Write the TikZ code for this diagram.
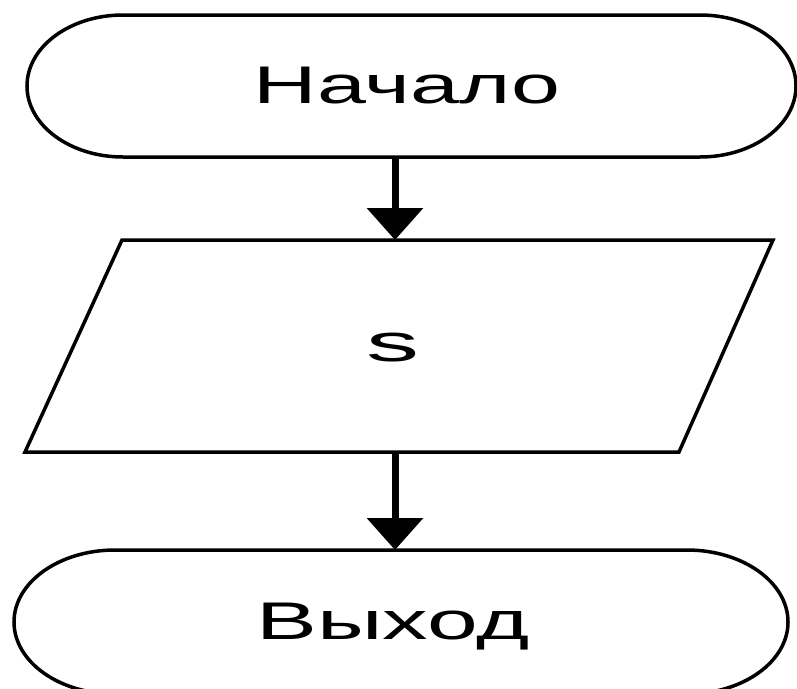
\documentclass[tikz,border=0pt]{standalone}
\usepackage{fontspec}
\setmainfont{Liberation Sans}
\usetikzlibrary{arrows.meta}
\tikzset{
  shapeline/.style={draw=black, line width=3.5pt, line join=miter},
  flow/.style={draw=black, line width=7pt, -{Triangle[length=32pt,width=55pt]}},
  label/.style={inner sep=0pt, anchor=base, font=\fontsize{53}{60}\selectfont},
}
\begin{document}
\begin{tikzpicture}[x=1pt,y=1pt]
\useasboundingbox (0,0) rectangle (797,-688);
% start terminal
\draw[shapeline] (123,-15) -- (700,-15)
  arc[start angle=90,end angle=-90,x radius=96pt,y radius=71pt]
  -- (123,-157)
  arc[start angle=270,end angle=90,x radius=96pt,y radius=71pt] -- cycle;
\node[label] (start) at (407,-103) {\scalebox{1.66}[1]{Начало}};
% input parallelogram
\draw[shapeline] (122,-240) -- (773,-240) -- (679,-452) -- (25,-452) -- cycle;
\node[label] (input) at (393,-361) {\scalebox{2}[1]{s}};
% end terminal
\draw[shapeline] (115,-550) -- (687,-550)
  arc[start angle=90,end angle=-90,x radius=101pt,y radius=72pt]
  -- (115,-694)
  arc[start angle=270,end angle=90,x radius=101pt,y radius=72pt] -- cycle;
\node[label] (stop) at (393,-639) {\scalebox{1.72}[1]{Выход}};
% connector anchors
\coordinate (startB) at (395,-157);
\coordinate (inputT) at (395,-240);
\coordinate (inputB) at (395,-452);
\coordinate (stopT) at (395,-550);
\draw[flow] (startB) -- (inputT);
\draw[flow] (inputB) -- (stopT);
\end{tikzpicture}
\end{document}
